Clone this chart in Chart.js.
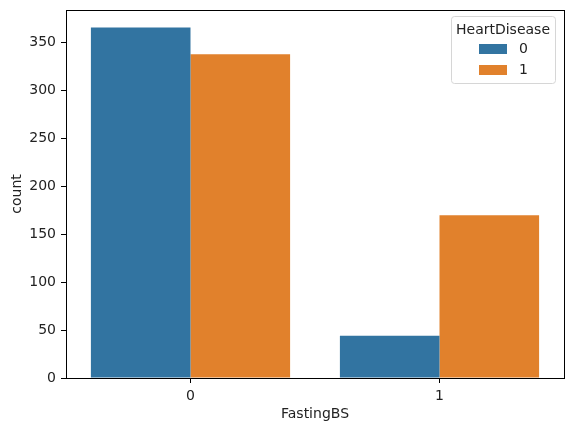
<!DOCTYPE html>
<html>
<head>
<meta charset="utf-8">
<script src="https://cdn.jsdelivr.net/npm/chart.js@4"></script>
<style>
  html, body { margin: 0; padding: 0; background: #fff; }
  #wrap { width: 571px; height: 432px; }
</style>
</head>
<body>
<div id="wrap"><canvas id="countChart" width="571" height="432"></canvas></div>
<script>
// countplot data
const categories = ["0", "1"];
const seriesNames = ["0", "1"];
const hd0 = [366, 44];
const hd1 = [338, 170];
const yTicks = [0, 50, 100, 150, 200, 250, 300, 350];
const colors = ["#3274a1", "#e1812c"];

const fontFamily = "'DejaVu Sans', sans-serif";

const framePlugin = {
  id: "frame",
  afterDraw(chart) {
    const { ctx, chartArea: a } = chart;
    ctx.save();
    ctx.strokeStyle = "#000";
    ctx.lineWidth = 1;
    ctx.strokeRect(Math.round(a.left) + 0.5, Math.round(a.top) + 0.5,
      Math.round(a.right - a.left), Math.round(a.bottom - a.top));

    // legend box (upper right)
    const x = 451, y = 16, w = 104, h = 67, r = 3;
    ctx.beginPath();
    ctx.roundRect(x + 0.5, y + 0.5, w, h, r);
    ctx.fillStyle = "rgba(255,255,255,0.8)";
    ctx.fill();
    ctx.strokeStyle = "#d6d6d6";
    ctx.stroke();

    ctx.fillStyle = "#222";
    ctx.font = "14px " + fontFamily;
    ctx.textAlign = "center";
    ctx.textBaseline = "middle";
    ctx.fillText("HeartDisease", x + w / 2, 30);

    chart.data.datasets.forEach((ds, i) => {
      const yy = 49 + i * 21;
      ctx.fillStyle = ds.backgroundColor;
      ctx.fillRect(479, yy - 5, 28, 10);
      ctx.fillStyle = "#222";
      ctx.textAlign = "left";
      ctx.fillText(ds.label, 519, yy);
    });
    ctx.restore();
  }
};

new Chart(document.getElementById("countChart"), {
  type: "bar",
  data: {
    labels: categories,
    datasets: [
      { label: seriesNames[0], data: hd0, backgroundColor: colors[0] },
      { label: seriesNames[1], data: hd1, backgroundColor: colors[1] }
    ]
  },
  options: {
    responsive: false,
    animation: false,
    events: [],
    layout: { padding: { left: 0, top: 10, right: 7, bottom: 0 } },
    datasets: { bar: { categoryPercentage: 0.8, barPercentage: 1.0, borderWidth: 0 } },
    plugins: { legend: { display: false }, tooltip: { enabled: false } },
    scales: {
      x: {
        offset: true,
        grid: { offset: false, drawOnChartArea: false, drawTicks: true, tickLength: 5, color: "#000" },
        border: { display: false },
        ticks: { color: "#222", padding: 5, font: { family: fontFamily, size: 14 } },
        title: { display: true, text: "FastingBS", color: "#222", padding: { top: 4, bottom: 9 },
                 font: { family: fontFamily, size: 14 } },
        afterFit(scale) {
          scale.height = 54;
          scale.paddingLeft = 0;
          scale.paddingRight = 0;
        }
      },
      y: {
        min: 0,
        max: 384.3,
        grid: { drawOnChartArea: false, drawTicks: true, tickLength: 5, color: "#000" },
        border: { display: false },
        afterBuildTicks(scale) { scale.ticks = yTicks.map(v => ({ value: v })); },
        ticks: { color: "#222", padding: 5, font: { family: fontFamily, size: 14 } },
        title: { display: true, text: "count", color: "#222", padding: { top: 9, bottom: 4 },
                 font: { family: fontFamily, size: 14 } },
        afterFit(scale) {
          scale.width = 66;
          scale.paddingTop = 0;
          scale.paddingBottom = 0;
        }
      }
    }
  },
  plugins: [framePlugin]
});
</script>
</body>
</html>
